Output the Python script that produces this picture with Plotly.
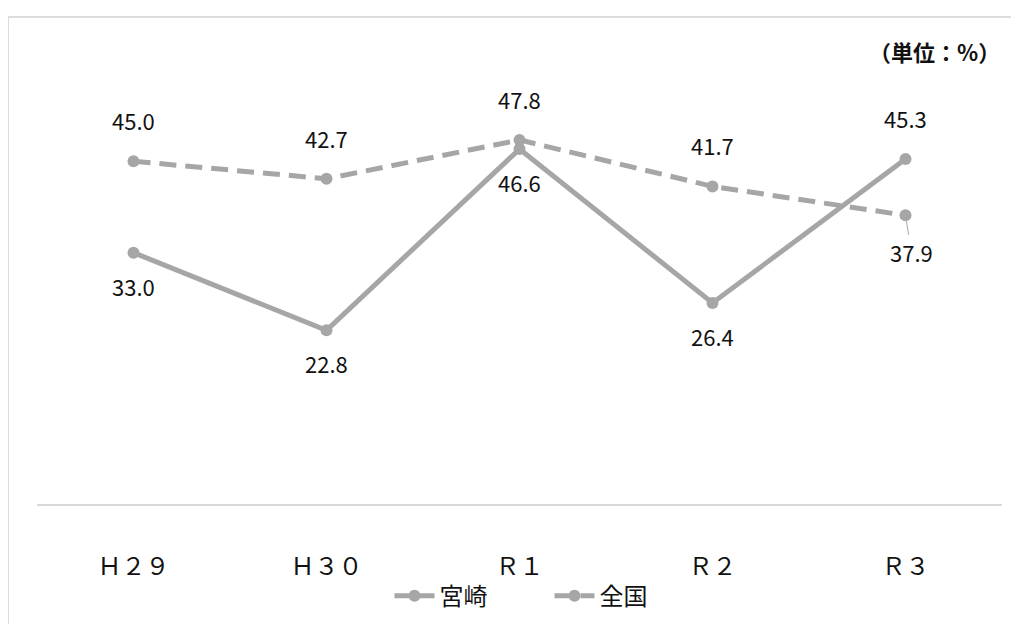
import plotly.graph_objects as go

categories = ["Ｈ２９", "Ｈ３０", "Ｒ１", "Ｒ２", "Ｒ３"]
miyazaki = [33.0, 22.8, 46.6, 26.4, 45.3]
zenkoku = [45.0, 42.7, 47.8, 41.7, 37.9]

miyazaki_label_side = [-1, -1, -1, -1, 1]
zenkoku_label_side = [1, 1, 1, 1, -1]

GRAY = "#a6a6a6"
FONT = "Noto Sans CJK JP"
TXT = "#111111"

# figure geometry (page body adds an 8px offset)
W, H = 1011, 616
L, R, T, B = 29, 17, 39, 120
PW, PH = W - L - R, H - T - B


def px_to_paper(x, y):
    return (x - L) / PW, (H - B - y) / PH


fig = go.Figure()
fig.add_trace(go.Scatter(
    x=categories, y=miyazaki, name="宮崎", mode="lines+markers",
    line=dict(color=GRAY, width=5), marker=dict(color=GRAY, size=12),
))
fig.add_trace(go.Scatter(
    x=categories, y=zenkoku, name="全国", mode="lines+markers",
    line=dict(color=GRAY, width=5, dash="17px,9px"), marker=dict(color=GRAY, size=12),
))

annotations = []
for series, sides in ((miyazaki, miyazaki_label_side), (zenkoku, zenkoku_label_side)):
    for i, (c, v) in enumerate(zip(categories, series)):
        side = sides[i]
        last_leader = (series is zenkoku and i == len(series) - 1)
        if last_leader:
            annotations.append(dict(
                x=c, y=v, xref="x", yref="y", text=f"{v:.1f}",
                showarrow=True, arrowhead=0, arrowwidth=1, arrowcolor=GRAY,
                ax=6, ay=37, standoff=6,
                font=dict(family=FONT, size=22, color=TXT),
            ))
        else:
            annotations.append(dict(
                x=c, y=v, xref="x", yref="y", text=f"{v:.1f}",
                showarrow=False, yshift=37 * side + 4,
                font=dict(family=FONT, size=22, color=TXT),
            ))

ux, uy = px_to_paper(994, 43)
annotations.append(dict(
    x=ux, y=uy, xref="paper", yref="paper", text="<b>（単位：%）</b>", showarrow=False,
    font=dict(family=FONT, size=22, color=TXT), xanchor="right", yanchor="middle",
))

bx0, by1 = px_to_paper(0, 9)
bx1, by0 = px_to_paper(W + 40, H + 40)

fig.update_layout(
    width=W, height=H,
    margin=dict(l=L, r=R, t=T, b=B, autoexpand=False),
    paper_bgcolor="white", plot_bgcolor="white",
    font=dict(family=FONT, color=TXT),
    showlegend=True,
    legend=dict(orientation="h", x=0.5 + 30 / PW, xanchor="center", y=-0.2014,
                yanchor="middle", bgcolor="rgba(0,0,0,0)",
                font=dict(family=FONT, size=24, color=TXT), itemwidth=40,
                entrywidth=105, entrywidthmode="pixels"),
    annotations=annotations,
    shapes=[dict(type="rect", xref="paper", yref="paper",
                 x0=bx0, x1=bx1, y0=by0, y1=by1,
                 line=dict(color="#dcdcdc", width=2), layer="below")],
)
fig.update_xaxes(range=[-0.5, 4.5], showgrid=False, showline=True, linecolor="#d9d9d9",
                 linewidth=1.5, ticks="", tickfont=dict(family=FONT, size=24, color=TXT),
                 ticklabelstandoff=40, automargin=False)
fig.update_yaxes(range=[0, 60], showgrid=False, showticklabels=False, zeroline=False,
                 showline=False, automargin=False)

fig.write_html("out.html")
